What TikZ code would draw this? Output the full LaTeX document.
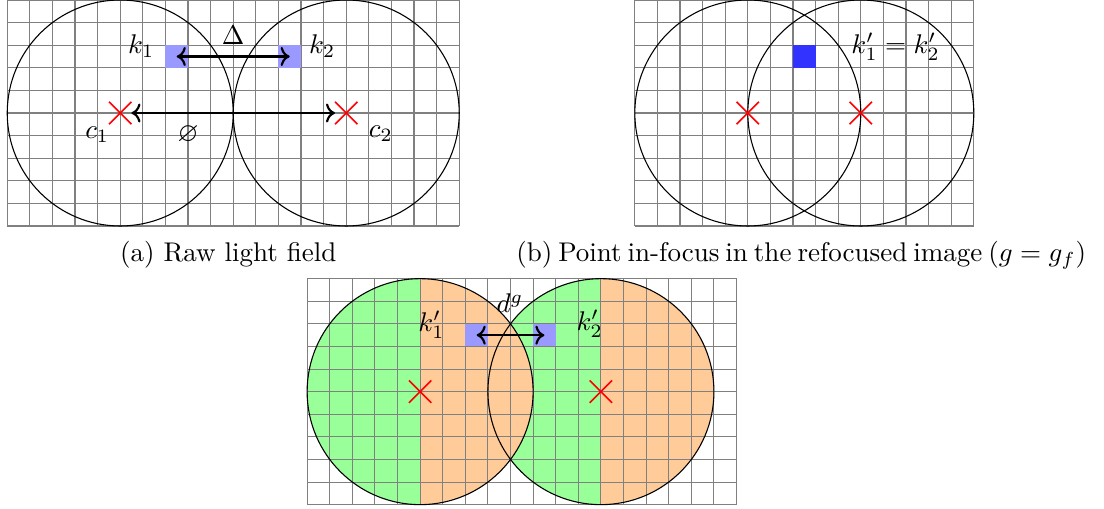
\documentclass[tikz,border=0pt]{standalone}
\usepackage{tikz}
\usetikzlibrary{arrows.meta, positioning, shapes.misc, calc}
\usepackage{amsmath}
\usepackage{amssymb}

\begin{document}
\begin{tikzpicture}[scale=0.294,
  sensor/.style={gray, thin},
  lens/.style={black, thin},
  pixel/.style={rectangle, minimum size=0.294cm, inner sep=0pt},
  centre/.style={cross out, draw=red, semithick, minimum size=0.27cm, inner sep=0pt},
  link/.style={<->, thick}]

  % Page size
  \useasboundingbox (-0.32,-12.48) rectangle (48.53,10);

  % (a) Raw light field
  \draw[sensor] (0,0) grid (20,10);
  \draw[lens] (5,5) circle (5);
  \draw[lens] (15,5) circle (5);
  \node[pixel, fill=blue!40] (k1) at (7.5,7.5) {};
  \node[pixel, fill=blue!40] (k2) at (12.5,7.5) {};
  \draw[link] (k1.center) -- (k2.center);
  \node[centre] (c1) at (5,5) {};
  \node[centre] (c2) at (15,5) {};
  \draw[link] (c1) -- (c2);

  \node (k1lbl) at (5.93,7.95) {$k_1$};
  \node (k2lbl) at (13.94,7.95) {$k_2$};
  \node (delta) at (10,8.46) {$\Delta$};
  \node (c1lbl) at (3.98,4.03) {$c_1$};
  \node (c2lbl) at (16.53,4.07) {$c_2$};
  \node (diam) at (8,4.05) {$\varnothing$};
  \node (capa) at (9.78,-1.28) {(a) Raw light field};

  % (b) Point in focus
  \begin{scope}[shift={(27.77,0)}]
    \draw[sensor] (0,0) grid (15,10);
    \draw[lens] (5,5) circle (5);
    \draw[lens] (10,5) circle (5);
    \node[pixel, fill=blue!80] (kf) at (7.5,7.5) {};
    \node[centre] (cf1) at (5,5) {};
    \node[centre] (cf2) at (10,5) {};
    \node (kflbl) at (11.54,7.93) {$k'_1 = k'_2$};
    \node (capb) at (7.3,-1.28) {\makebox[209.9pt][s]{(b) Point in-focus in the refocused image ($g = g_f$)}};
  \end{scope}

  % (c) Point out of focus
  \begin{scope}[shift={(13.27,-12.33)}]
    % half-disc colouring, left disc on top
    \foreach \cx in {13,5} {
      \begin{scope}
        \clip (\cx,5) circle (5);
        \fill[green!40] (\cx-5,0) rectangle (\cx,10);
        \fill[orange!40] (\cx,0) rectangle (\cx+5,10);
      \end{scope}
    }
    \draw[sensor] (0,0) grid (19,10);
    \draw[lens] (5,5) circle (5);
    \draw[lens] (13,5) circle (5);
    \node[pixel, fill=blue!40] (kd1) at (7.5,7.5) {};
    \node[pixel, fill=blue!40] (kd2) at (10.5,7.5) {};
    \draw[link] (kd1.center) -- (kd2.center);
    \node[centre] (cd1) at (5,5) {};
    \node[centre] (cd2) at (13,5) {};

    \node (kd1lbl) at (5.5,7.96) {$k'_1$};
    \node (kd2lbl) at (12.5,8) {$k'_2$};
    \node (dg) at (8.97,8.9) {$d^g$};
  \end{scope}
\end{tikzpicture}
\end{document}
